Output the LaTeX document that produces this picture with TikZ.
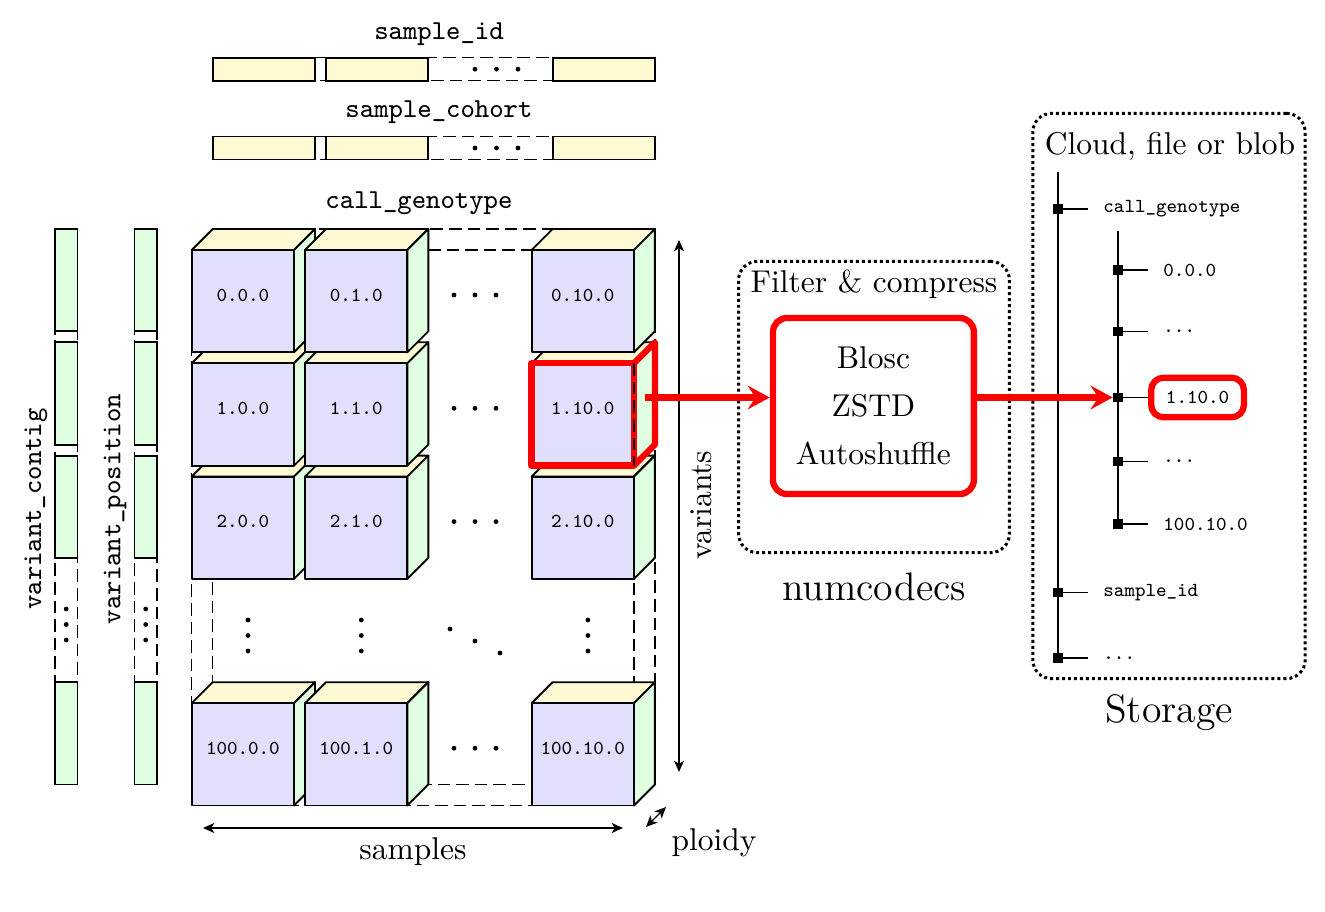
\documentclass[tikz,border=0pt]{standalone}
\usepackage{tikz}
\usetikzlibrary{arrows.meta}
\usepackage{amssymb}
\usepackage{xcolor}

\definecolor{chunkfront}{RGB}{224,224,252}
\definecolor{chunktop}{RGB}{255,250,212}
\definecolor{chunkside}{RGB}{224,255,224}

% one chunk: x, y of front top-left corner, label, name
\newcommand{\chunk}[4]{%
  \draw[chunkedge,fill=chunktop] (#1,#2) -- ++(21,-21) -- ++(102.3,0) -- ++(-21,21) -- cycle;
  \draw[chunkedge,fill=chunkside] (#1+102.3,#2) -- ++(21,-21) -- ++(0,102.3) -- ++(-21,21) -- cycle;
  \draw[chunkedge,fill=chunkfront] (#1,#2) rectangle ++(102.3,102.3);
  \node[chunklbl] (#4) at (#1+51.2,#2+45) {#3};
}

\begin{document}
\begin{tikzpicture}[x=0.3175pt,y=0.3175pt,yscale=-1,xscale=1,
  chunkedge/.style={draw=black,semithick,line join=round},
  chunklbl/.style={font=\ttfamily\fontsize{6.3}{7}\selectfont,inner sep=0pt},
  strip/.style={draw=black,semithick},
  dashframe/.style={draw=black,line width=0.5pt,dash pattern=on 4pt off 1.9pt},
  arrlbl/.style={font=\ttfamily\fontsize{8.7}{10}\selectfont},
  dimarrow/.style={thin,{Stealth[length=3.6pt,width=3.2pt,inset=1pt]}-{Stealth[length=3.6pt,width=3.2pt,inset=1pt]}},
  dotbox/.style={draw=black,line width=0.95pt,dash pattern=on 0.95pt off 0.95pt,rounded corners=6pt,inner sep=0pt},
  codecbox/.style={draw=red,line width=2pt,rounded corners=4.5pt,align=center,font=\fontsize{10}{15.3}\selectfont},
  hlline/.style={draw=red,line width=2pt,line join=round},
  hlarrow/.style={draw=red,line width=2pt,-{Stealth[length=7pt,width=7.5pt,inset=2.5pt]}},
  leafsq/.style={fill=black,inner sep=0pt,minimum size=3pt},
  treelbl/.style={font=\ttfamily\fontsize{6.3}{7}\selectfont,anchor=west,inner xsep=4.7pt},
  biglbl/.style={font=\fontsize{12.6}{15}\selectfont}]
\useasboundingbox (0,0) rectangle (1325,912);

% sample arrays
\draw[dashframe] (212.7,57.7) rectangle (655,80.7);
\draw[dashframe] (212.7,136.5) rectangle (655,159.5);
\foreach \c in {0,1,3}{
  \draw[strip,fill=chunktop] (212.7+113.3*\c,57.7) rectangle ++(102.3,23);
  \draw[strip,fill=chunktop] (212.7+113.3*\c,136.5) rectangle ++(102.3,23);
}
\foreach \dx in {475,496.5,518}{
  \fill (\dx,69.2) circle[radius=2.4];
  \fill (\dx,148) circle[radius=2.4];
}
\node[arrlbl] (lbl-sid) at (439,34) {sample\_id};
\node[arrlbl] (lbl-coh) at (439,112) {sample\_cohort};

% variant arrays
\foreach \vx in {55,134.5}{
  \draw[dashframe] (\vx,229) rectangle ++(22.5,555.5);
  \foreach \r in {0,1,2,4}
    \draw[strip,fill=chunkside] (\vx,229+113.3*\r) rectangle ++(22.5,102.3);
  \foreach \dy in {609,624.5,640}
    \fill (\vx+11.2,\dy) circle[radius=2.4];
}
\node[arrlbl,rotate=90] (lbl-ctg) at (36,509) {variant\_contig};
\node[arrlbl,rotate=90] (lbl-pos) at (115,509) {variant\_position};

% call_genotype chunks
\node[arrlbl] (lbl-cg) at (419,203) {call\_genotype};
\draw[dashframe] (191.7,250) rectangle (634,805.5);
\draw[dashframe] (212.7,229) rectangle (655,784.5);
\foreach \r/\rn in {4/100,2/2,1/1,0/0}{
  \foreach \c/\cn in {0/0,1/1,3/10}{
    \pgfmathsetmacro{\cx}{191.7+113.3*\c}
    \pgfmathsetmacro{\cy}{250+113.3*\r}
    \chunk{\cx}{\cy}{\rn.\cn.0}{c\r\c}
  }
}
% dots between chunks
\foreach \cy in {295,408.3,521.6,748.2}
  \foreach \dx in {454,475,496}
    \fill (\dx,\cy) circle[radius=2.4];
\foreach \cx in {248,361.3,587.9}
  \foreach \dy in {620,635.5,651}
    \fill (\cx,\dy) circle[radius=2.4];
\fill (450,629) circle[radius=2.4] (475,641) circle[radius=2.4] (500,653) circle[radius=2.4];

% highlighted chunk
\draw[hlline] (531.6,363.3) rectangle ++(102.3,102.3);
\draw[hlline] (633.9,363.3) -- ++(21,-21) -- ++(0,102.3) -- ++(-21,21);
\draw[dashframe] (633.9,363.3) -- ++(0,102.3);
\coordinate (hl) at (645,397.5);

% dimensions
\draw[dimarrow] (679,240) -- (679,772);
\node[rotate=90] (lbl-var) at (701,505) {variants};
\draw[dimarrow] (203,828) -- (623,828);
\node (lbl-smp) at (413,852) {samples};
\draw[dimarrow] (646,827) -- (666,807);
\node (lbl-plo) at (714,843) {ploidy};

% numcodecs
\node[dotbox,minimum width=86pt,minimum height=92.5pt] (filter) at (874,407) {};
\node (lbl-flt) at (874,284) {Filter \& compress};
\node[codecbox,minimum width=63.8pt,minimum height=55.9pt] (codec) at (873.4,406) {Blosc\\ZSTD\\Autoshuffle};
\node[biglbl] (lbl-nc) at (874,587) {numcodecs};

% storage
\node[dotbox,minimum width=86.5pt,minimum height=179.5pt] (store) at (1169,396) {};
\node (lbl-cfb) at (1170,146) {Cloud, file or blob};
\node[biglbl] (lbl-st) at (1169,713) {Storage};

% tree
\coordinate (trunk) at (1058,172);
\node[leafsq] (t-cg) at (1058,209) {};
\node[leafsq] (t-sid) at (1058,592.5) {};
\node[leafsq] (t-etc) at (1058,658) {};
\draw[semithick] (trunk) -- (t-etc.center);
\node[treelbl] (l-cg) at (1088,209) {call\_genotype};
\node[treelbl] (l-sid) at (1088,592.5) {sample\_id};
\node[treelbl] (l-etc) at (1088,658) {...};
\foreach \n in {cg,sid,etc}
  \draw[thin] (t-\n.center) -- (l-\n.west);

\coordinate (branch) at (1118,231);
\node[leafsq] (t-a) at (1118,270) {};
\node[leafsq] (t-b) at (1118,331.5) {};
\node[leafsq] (t-hl) at (1118,397.5) {};
\node[leafsq] (t-d) at (1118,461.5) {};
\node[leafsq] (t-e) at (1118,524) {};
\draw[semithick] (branch) -- (t-e.center);
\node[treelbl] (l-a) at (1148,270) {0.0.0};
\node[treelbl] (l-b) at (1148,331.5) {...};
\node[treelbl,draw=red,line width=2pt,rounded corners=4pt,minimum height=12.6pt] (l-hl) at (1148,397.5) {1.10.0};
\node[treelbl] (l-d) at (1148,461.5) {...};
\node[treelbl] (l-e) at (1148,524) {100.10.0};
\foreach \n in {a,b,hl,d,e}
  \draw[thin] (t-\n.center) -- (l-\n.west);

% flow
\draw[hlarrow] (hl) -- (codec.west |- hl);
\draw[hlarrow] (codec.east |- t-hl) -- (t-hl.west);

\end{tikzpicture}
\end{document}
